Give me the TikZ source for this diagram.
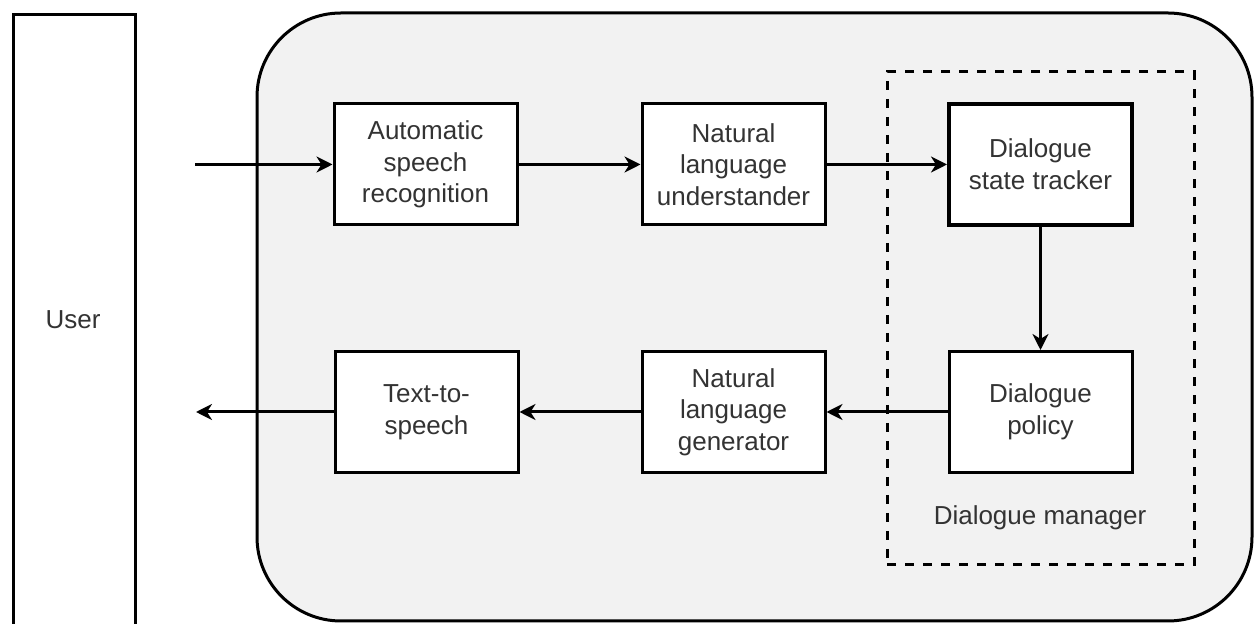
\documentclass[tikz,border=0pt]{standalone}
\usepackage{fontspec}
\setmainfont{Liberation Sans}
\usetikzlibrary{arrows.meta}
\definecolor{txt}{HTML}{333333}
\definecolor{bg}{HTML}{F2F2F2}
\begin{document}
\begin{tikzpicture}[x=0.5pt,y=-0.5pt,
  lbl/.style={font=\fontsize{13}{15.8}\selectfont, text=txt, align=center, inner sep=0pt},
  box/.style={lbl, draw=black, line width=1.5pt, fill=white, minimum width=91.5pt, minimum height=60.5pt},
  thickbox/.style={box, line width=2pt},
  arr/.style={line width=1.5pt, -{Stealth[length=8pt,width=8pt,inset=2.5pt]}},
  outline/.style={line width=1.5pt, draw=black},
  dmbox/.style={draw=black, line width=1.5pt, dash pattern=on 4.5pt off 4.5pt, minimum width=153.5pt, minimum height=246.5pt, inner sep=0pt},
]
\useasboundingbox (0,0) rectangle (1255,624);
\clip (0,0) rectangle (1255,624);
% user column
\node[outline, fill=white, minimum width=61pt, minimum height=350pt, inner sep=0pt, anchor=north west] (userbox) at (12,13) {};
\node[lbl] (user) at (73,320) {User};
% system container
\draw[outline, fill=bg, rounded corners=42pt] (257,13) rectangle (1252,621);
% dialogue manager dashed group
\node[dmbox] (dm) at (1040.5,318.5) {};
\node[lbl] (dmlabel) at (1040,518) {Dialogue manager};
% components
\node[box] (asr) at (425.5,164.5) {Automatic\\speech\\recognition};
\node[box] (nlu) at (733.5,164.5) {Natural\\language\\understander};
\node[thickbox] (dst) at (1040.5,164.5) {Dialogue\\state tracker};
\node[box] (dp) at (1040.5,412) {Dialogue\\policy};
\node[box] (nlg) at (733.5,412) {Natural\\language\\generator};
\node[box] (tts) at (426.5,412) {Text-to-\\speech};
% free ends
\coordinate (in) at (195,164.5);
\coordinate (out) at (196,412);
% connectors
\draw[arr] (in) -- (asr);
\draw[arr] (asr) -- (nlu);
\draw[arr] (nlu) -- (dst);
\draw[arr] (dst) -- (dp);
\draw[arr] (dp) -- (nlg);
\draw[arr] (nlg) -- (tts);
\draw[arr] (tts) -- (out);
\end{tikzpicture}
\end{document}
